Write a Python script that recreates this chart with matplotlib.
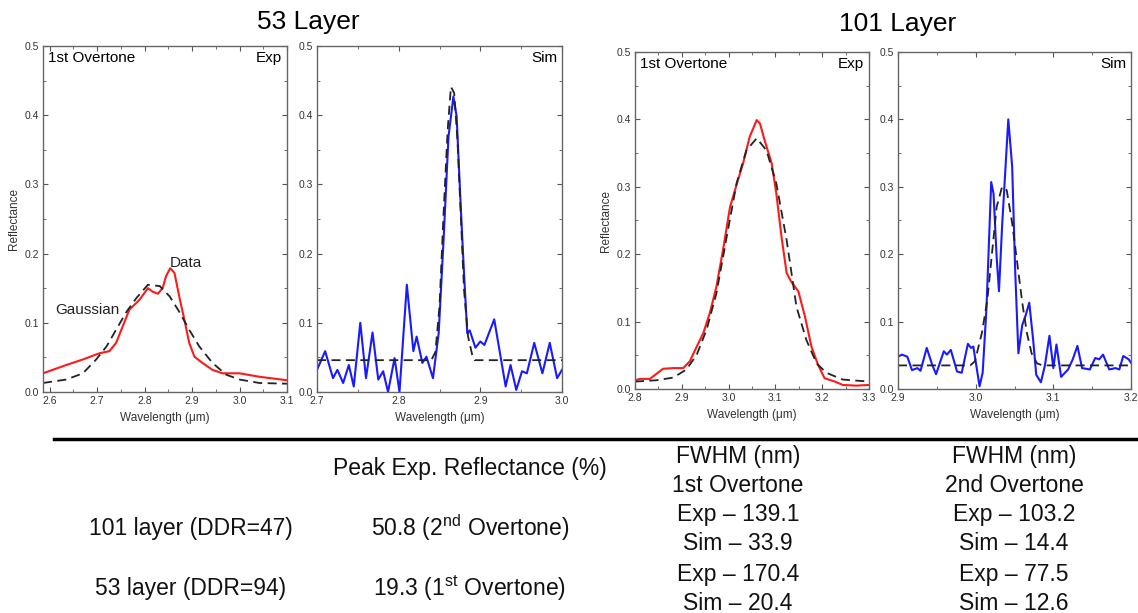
import matplotlib
matplotlib.use("Agg")
import matplotlib.pyplot as plt
from matplotlib.ticker import MultipleLocator

plt.rcParams["font.family"] = ["Liberation Sans", "DejaVu Sans"]
plt.rcParams["mathtext.fontset"] = "custom"
plt.rcParams["mathtext.rm"] = "Liberation Sans"
plt.rcParams["mathtext.it"] = "Liberation Sans:italic"

###################
# Data (read off) #
###################
# 53 layer, experiment
exp53_x = [2.586, 2.635, 2.67, 2.705, 2.726, 2.74, 2.754, 2.768, 2.789, 2.807, 2.817, 2.828,
           2.838, 2.845, 2.854, 2.863, 2.873, 2.884, 2.894, 2.905, 2.922, 2.943, 2.964, 3.0,
           3.042, 3.1]
exp53_y = [0.027, 0.039, 0.047, 0.056, 0.059, 0.071, 0.095, 0.119, 0.133, 0.150, 0.145, 0.142,
           0.150, 0.167, 0.179, 0.172, 0.138, 0.104, 0.071, 0.051, 0.042, 0.032, 0.027, 0.027,
           0.022, 0.017]
gau53_x = [2.586, 2.635, 2.67, 2.698, 2.72, 2.74, 2.762, 2.783, 2.807, 2.832, 2.853, 2.873,
           2.894, 2.915, 2.943, 2.972, 3.0, 3.042, 3.1]
gau53_y = [0.013, 0.018, 0.027, 0.047, 0.066, 0.090, 0.116, 0.136, 0.155, 0.153, 0.138, 0.116,
           0.090, 0.066, 0.042, 0.025, 0.018, 0.013, 0.012]

# 53 layer, simulation
sim53_x = [2.700, 2.710, 2.7196, 2.725, 2.732, 2.739, 2.745, 2.753, 2.760, 2.768, 2.775, 2.781,
           2.787, 2.795, 2.801, 2.810, 2.818, 2.822, 2.829, 2.834, 2.842, 2.849, 2.855, 2.861,
           2.867, 2.871, 2.876, 2.880, 2.884, 2.887, 2.894, 2.900, 2.905, 2.917, 2.931, 2.937,
           2.944, 2.951, 2.957, 2.966, 2.976, 2.985, 2.994, 3.000]
sim53_y = [0.032, 0.059, 0.020, 0.032, 0.013, 0.039, 0.008, 0.100, 0.020, 0.086, 0.018, 0.030,
           0.000, 0.049, 0.000, 0.155, 0.059, 0.080, 0.042, 0.051, 0.020, 0.085, 0.220, 0.369,
           0.427, 0.398, 0.268, 0.172, 0.085, 0.089, 0.064, 0.073, 0.068, 0.105, 0.008, 0.039,
           0.003, 0.030, 0.027, 0.071, 0.027, 0.071, 0.020, 0.032]
fit53_x = [2.700, 2.840, 2.845, 2.850, 2.855, 2.860, 2.864, 2.868, 2.872, 2.876, 2.880, 2.885,
           2.890, 2.893, 3.000]
fit53_y = [0.046, 0.046, 0.058, 0.124, 0.258, 0.379, 0.441, 0.432, 0.364, 0.258, 0.148, 0.080,
           0.054, 0.046, 0.046]

# 101 layer, experiment
exp101_x = [2.800, 2.811, 2.832, 2.843, 2.860, 2.882, 2.903, 2.917, 2.932, 2.946, 2.960, 2.974,
            2.988, 3.003, 3.017, 3.031, 3.045, 3.060, 3.067, 3.077, 3.092, 3.102, 3.113, 3.124,
            3.134, 3.149, 3.163, 3.177, 3.191, 3.205, 3.227, 3.244, 3.273, 3.300]
exp101_y = [0.013, 0.015, 0.015, 0.021, 0.030, 0.031, 0.031, 0.041, 0.063, 0.083, 0.113, 0.152,
            0.206, 0.270, 0.303, 0.335, 0.374, 0.399, 0.394, 0.369, 0.335, 0.290, 0.226, 0.172,
            0.159, 0.145, 0.108, 0.063, 0.036, 0.016, 0.011, 0.006, 0.005, 0.006]
gau101_x = [2.800, 2.846, 2.882, 2.910, 2.932, 2.953, 2.974, 2.996, 3.017, 3.038, 3.060, 3.081,
            3.102, 3.124, 3.145, 3.166, 3.188, 3.209, 3.244, 3.300]
gau101_y = [0.011, 0.013, 0.017, 0.029, 0.051, 0.088, 0.142, 0.226, 0.305, 0.354, 0.372, 0.354,
            0.305, 0.221, 0.122, 0.073, 0.038, 0.024, 0.014, 0.011]

# 101 layer, simulation
sim101_x = [2.900, 2.905, 2.912, 2.918, 2.925, 2.929, 2.937, 2.944, 2.949, 2.959, 2.963, 2.968,
            2.976, 2.982, 2.990, 2.994, 2.997, 3.005, 3.009, 3.014, 3.020, 3.023, 3.027, 3.030,
            3.034, 3.042, 3.047, 3.051, 3.055, 3.060, 3.064, 3.069, 3.074, 3.078, 3.084, 3.089,
            3.095, 3.100, 3.104, 3.110, 3.119, 3.125, 3.131, 3.137, 3.147, 3.154, 3.159, 3.164,
            3.172, 3.180, 3.185, 3.190, 3.197, 3.200]
sim101_y = [0.048, 0.051, 0.048, 0.028, 0.031, 0.027, 0.061, 0.036, 0.022, 0.056, 0.051, 0.058,
            0.026, 0.024, 0.067, 0.061, 0.063, 0.004, 0.024, 0.122, 0.307, 0.290, 0.196, 0.145,
            0.241, 0.400, 0.330, 0.172, 0.053, 0.095, 0.108, 0.128, 0.073, 0.021, 0.010, 0.034,
            0.079, 0.031, 0.066, 0.018, 0.029, 0.044, 0.064, 0.031, 0.029, 0.046, 0.044, 0.051,
            0.029, 0.031, 0.029, 0.049, 0.044, 0.039]
fit101_x = [2.900, 2.993, 2.999, 3.008, 3.015, 3.021, 3.027, 3.034, 3.040, 3.047, 3.053, 3.060,
            3.066, 3.072, 3.079, 3.086, 3.200]
fit101_y = [0.035, 0.035, 0.041, 0.083, 0.132, 0.201, 0.270, 0.300, 0.295, 0.246, 0.192, 0.128,
            0.083, 0.053, 0.038, 0.035, 0.035]

# summary table
row_labels = ["101 layer (DDR=47)", "53 layer (DDR=94)"]
peak_refl = ["50.8 (2$^{\\mathrm{nd}}$ Overtone)", "19.3 (1$^{\\mathrm{st}}$ Overtone)"]
fwhm_1st = [("139.1", "33.9"), ("170.4", "20.4")]
fwhm_2nd = [("103.2", "14.4"), ("77.5", "12.6")]

#################
# Figure layout #
#################
W, H = 1138, 613
fig = plt.figure(figsize=(W / 100, H / 100), dpi=100)


def px_axes(left, right, top, bottom):
    return fig.add_axes([left / W, 1 - bottom / H, (right - left) / W, (bottom - top) / H])


def style(ax, xlim, ylabel=True):
    ax.set_xlim(*xlim)
    ax.set_ylim(0, 0.5)
    ax.xaxis.set_major_locator(MultipleLocator(0.1))
    ax.xaxis.set_minor_locator(MultipleLocator(0.05))
    ax.yaxis.set_major_locator(MultipleLocator(0.1))
    ax.yaxis.set_minor_locator(MultipleLocator(0.05))
    ax.tick_params(which="both", direction="in", top=True, right=True, labelsize=7.5,
                   colors="#555555", labelcolor="#333333", pad=3)
    ax.tick_params(which="major", length=3.5, width=0.8)
    ax.tick_params(which="minor", length=2, width=0.6)
    for s in ax.spines.values():
        s.set_color("#666666")
        s.set_linewidth(1.0)
    ax.set_xlabel("Wavelength (\u03bcm)", fontsize=8.5, color="#333333", labelpad=4)
    if ylabel:
        ax.set_ylabel("Reflectance", fontsize=8.5, color="#333333", labelpad=3)


red = "#ff1a1a"
blue = "#1a1aff"
dash = dict(color="#222222", lw=1.3, ls=(0, (5, 3)))

ax1 = px_axes(43, 287, 46, 392)
ax1.plot(exp53_x, exp53_y, color=red, lw=1.5)
ax1.plot(gau53_x, gau53_y, **dash)
style(ax1, (2.586, 3.1))
ax1.text(0.02, 0.985, "1st Overtone", transform=ax1.transAxes, ha="left", va="top", fontsize=11)
ax1.text(0.98, 0.985, "Exp", transform=ax1.transAxes, ha="right", va="top", fontsize=11)
ax1.text(2.852, 0.186, "Data", ha="left", va="center", fontsize=11, color="#222222")
ax1.text(2.611, 0.118, "Gaussian", ha="left", va="center", fontsize=11, color="#222222")

ax2 = px_axes(317, 562, 46, 392)
ax2.plot(sim53_x, sim53_y, color=blue, lw=1.5)
ax2.plot(fit53_x, fit53_y, **dash)
style(ax2, (2.7, 3.0), ylabel=False)
ax2.text(0.98, 0.985, "Sim", transform=ax2.transAxes, ha="right", va="top", fontsize=11)

ax3 = px_axes(635, 869, 52, 389)
ax3.plot(exp101_x, exp101_y, color=red, lw=1.5)
ax3.plot(gau101_x, gau101_y, **dash)
style(ax3, (2.8, 3.3))
ax3.text(0.02, 0.985, "1st Overtone", transform=ax3.transAxes, ha="left", va="top", fontsize=11)
ax3.text(0.98, 0.985, "Exp", transform=ax3.transAxes, ha="right", va="top", fontsize=11)

ax4 = px_axes(898, 1131, 52, 389)
ax4.plot(sim101_x, sim101_y, color=blue, lw=1.5)
ax4.plot(fit101_x, fit101_y, **dash)
style(ax4, (2.9, 3.2), ylabel=False)
ax4.text(0.98, 0.985, "Sim", transform=ax4.transAxes, ha="right", va="top", fontsize=11)

# group titles
fig.text(308 / W, 1 - 22 / H, "53 Layer", ha="center", va="center", fontsize=19)
fig.text(898 / W, 1 - 24 / H, "101 Layer", ha="center", va="center", fontsize=19)

# separator line
fig.add_artist(plt.Line2D([54 / W, 1.0], [1 - 439 / H, 1 - 439 / H], color="black", lw=2.5))


def ftext(x, y, s):
    fig.text(x / W, 1 - y / H, s, ha="center", va="center", fontsize=16.5, color="#111111")


# table
ftext(470, 469, "Peak Exp. Reflectance (%)")
ftext(738, 456, "FWHM (nm)")
ftext(738, 485, "1st Overtone")
ftext(1014, 456, "FWHM (nm)")
ftext(1014, 485, "2nd Overtone")
row_y = [528, 588]
for i in range(2):
    ftext(191, row_y[i], row_labels[i])
    ftext(470, row_y[i], peak_refl[i])
    ftext(738, row_y[i] - 14, "Exp \u2013 " + fwhm_1st[i][0])
    ftext(738, row_y[i] + 15, "Sim \u2013 " + fwhm_1st[i][1])
    ftext(1014, row_y[i] - 14, "Exp \u2013 " + fwhm_2nd[i][0])
    ftext(1014, row_y[i] + 15, "Sim \u2013 " + fwhm_2nd[i][1])

fig.savefig("out.png", dpi=100)
